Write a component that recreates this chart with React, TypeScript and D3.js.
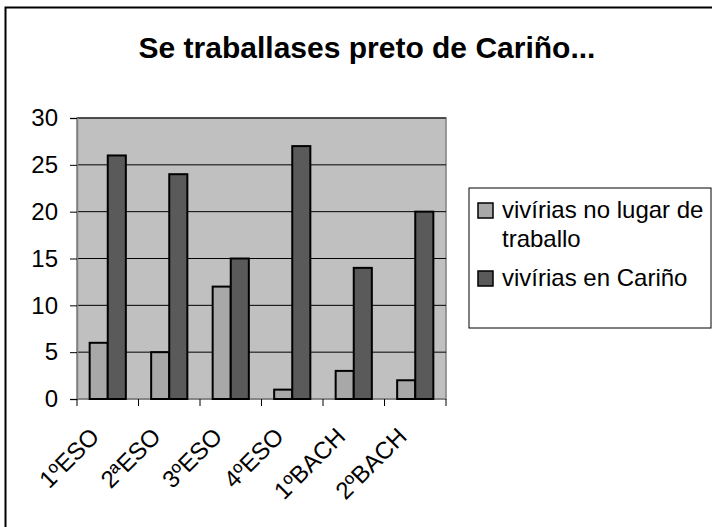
import { useRef, useEffect } from "react";
import * as d3 from "d3";

// chart data
const categories = ["1ºESO", "2ªESO", "3ºESO", "4ºESO", "1ºBACH", "2ºBACH"];
const seriesNames = ["vivírias no lugar de traballo", "vivírias en Cariño"];
const lugarTraballo = [6, 5, 12, 1, 3, 2];
const enCarino = [26, 24, 15, 27, 14, 20];
const yTicks = [0, 5, 10, 15, 20, 25, 30];
const colors = ["#a8a8a8", "#5a5a5a"];

const App = () => {
  const svgRef = useRef<SVGSVGElement>(null);

  useEffect(() => {
    const svg = d3.select(svgRef.current);
    svg.selectAll("*").remove();

    const font = "Arial, 'Liberation Sans', sans-serif";
    const left = 77, right = 446, top = 118, bottom = 399;

    // outer frame (right and bottom edge fall outside the picture)
    svg
      .append("rect")
      .attr("x", 5.5)
      .attr("y", 7.5)
      .attr("width", 720)
      .attr("height", 540)
      .attr("fill", "#fff")
      .attr("stroke", "#000")
      .attr("stroke-width", 2);

    // title
    svg
      .append("text")
      .attr("x", 367)
      .attr("y", 58)
      .attr("text-anchor", "middle")
      .attr("font-family", font)
      .attr("font-weight", "bold")
      .attr("font-size", "30px")
      .text("Se traballases preto de Cariño...");

    const xScale = d3.scaleBand().domain(categories).range([left, right]);
    const inner = d3
      .scaleBand()
      .domain(["0", "1"])
      .range([0, xScale.bandwidth()])
      .paddingInner(0)
      .paddingOuter(0.7);
    const yScale = d3.scaleLinear().domain([0, 30]).range([bottom, top]);

    // plot background
    svg
      .append("rect")
      .attr("x", left)
      .attr("y", top)
      .attr("width", right - left)
      .attr("height", bottom - top)
      .attr("fill", "#c0c0c0")
      .attr("stroke", "#808080")
      .attr("stroke-width", 1.5);

    // gridlines
    svg
      .append("g")
      .selectAll("line")
      .data(yTicks.slice(1))
      .join("line")
      .attr("x1", left)
      .attr("x2", right)
      .attr("y1", (d) => yScale(d))
      .attr("y2", (d) => yScale(d))
      .attr("stroke", "#000")
      .attr("stroke-width", 1);

    // y axis
    const yAxis = d3
      .axisLeft(yScale)
      .tickValues(yTicks)
      .tickSize(7)
      .tickPadding(12);
    const yg = svg.append("g").attr("transform", `translate(${left},0)`).call(yAxis);
    yg.select(".domain").attr("stroke", "#808080").attr("stroke-width", 1.5);
    yg.selectAll(".tick line").attr("stroke", "#000");
    yg.selectAll("text")
      .attr("font-family", font)
      .attr("font-size", "24px")
      .attr("fill", "#000");

    // x axis: ticks on category boundaries
    svg
      .append("line")
      .attr("x1", left)
      .attr("x2", right)
      .attr("y1", bottom)
      .attr("y2", bottom)
      .attr("stroke", "#808080")
      .attr("stroke-width", 1.5);
    const bounds = categories.map((c) => xScale(c)!).concat([right]);
    svg
      .append("g")
      .selectAll("line")
      .data(bounds)
      .join("line")
      .attr("x1", (d) => d)
      .attr("x2", (d) => d)
      .attr("y1", bottom)
      .attr("y2", bottom + 7)
      .attr("stroke", "#000");

    svg
      .append("g")
      .selectAll("text")
      .data(categories)
      .join("text")
      .attr(
        "transform",
        (d) => `translate(${xScale(d)! + xScale.bandwidth() / 2 - 7},${bottom + 39}) rotate(-45)`
      )
      .attr("text-anchor", "end")
      .attr("font-family", font)
      .attr("font-size", "24px")
      .text((d) => d);

    // bars
    const series = [lugarTraballo, enCarino];
    series.forEach((vals, s) => {
      svg
        .append("g")
        .selectAll("rect")
        .data(vals)
        .join("rect")
        .attr("x", (d, i) => xScale(categories[i])! + inner(String(s))!)
        .attr("y", (d) => yScale(d))
        .attr("width", inner.bandwidth())
        .attr("height", (d) => bottom - yScale(d))
        .attr("fill", colors[s])
        .attr("stroke", "#000")
        .attr("stroke-width", 2);
    });

    // legend
    const lg = svg.append("g");
    lg.append("rect")
      .attr("x", 469)
      .attr("y", 188)
      .attr("width", 242)
      .attr("height", 140)
      .attr("fill", "#fff")
      .attr("stroke", "#000")
      .attr("stroke-width", 1);
    const legendRows = [
      { y: 203, lines: ["vivírias no lugar de", "traballo"] },
      { y: 271, lines: [seriesNames[1]] },
    ];
    legendRows.forEach((r, i) => {
      lg.append("rect")
        .attr("x", 478)
        .attr("y", r.y)
        .attr("width", 15)
        .attr("height", 15)
        .attr("fill", colors[i])
        .attr("stroke", "#000")
        .attr("stroke-width", 1.5);
      r.lines.forEach((t, j) => {
        lg.append("text")
          .attr("x", 502)
          .attr("y", r.y + 15 + j * 29)
          .attr("font-family", font)
          .attr("font-size", "24px")
          .text(t);
      });
    });
  }, []);

  return (
    <svg
      ref={svgRef}
      width={712}
      height={527}
      style={{ position: "absolute", left: 0, top: 0, background: "#fff" }}
    ></svg>
  );
};

export default App;
